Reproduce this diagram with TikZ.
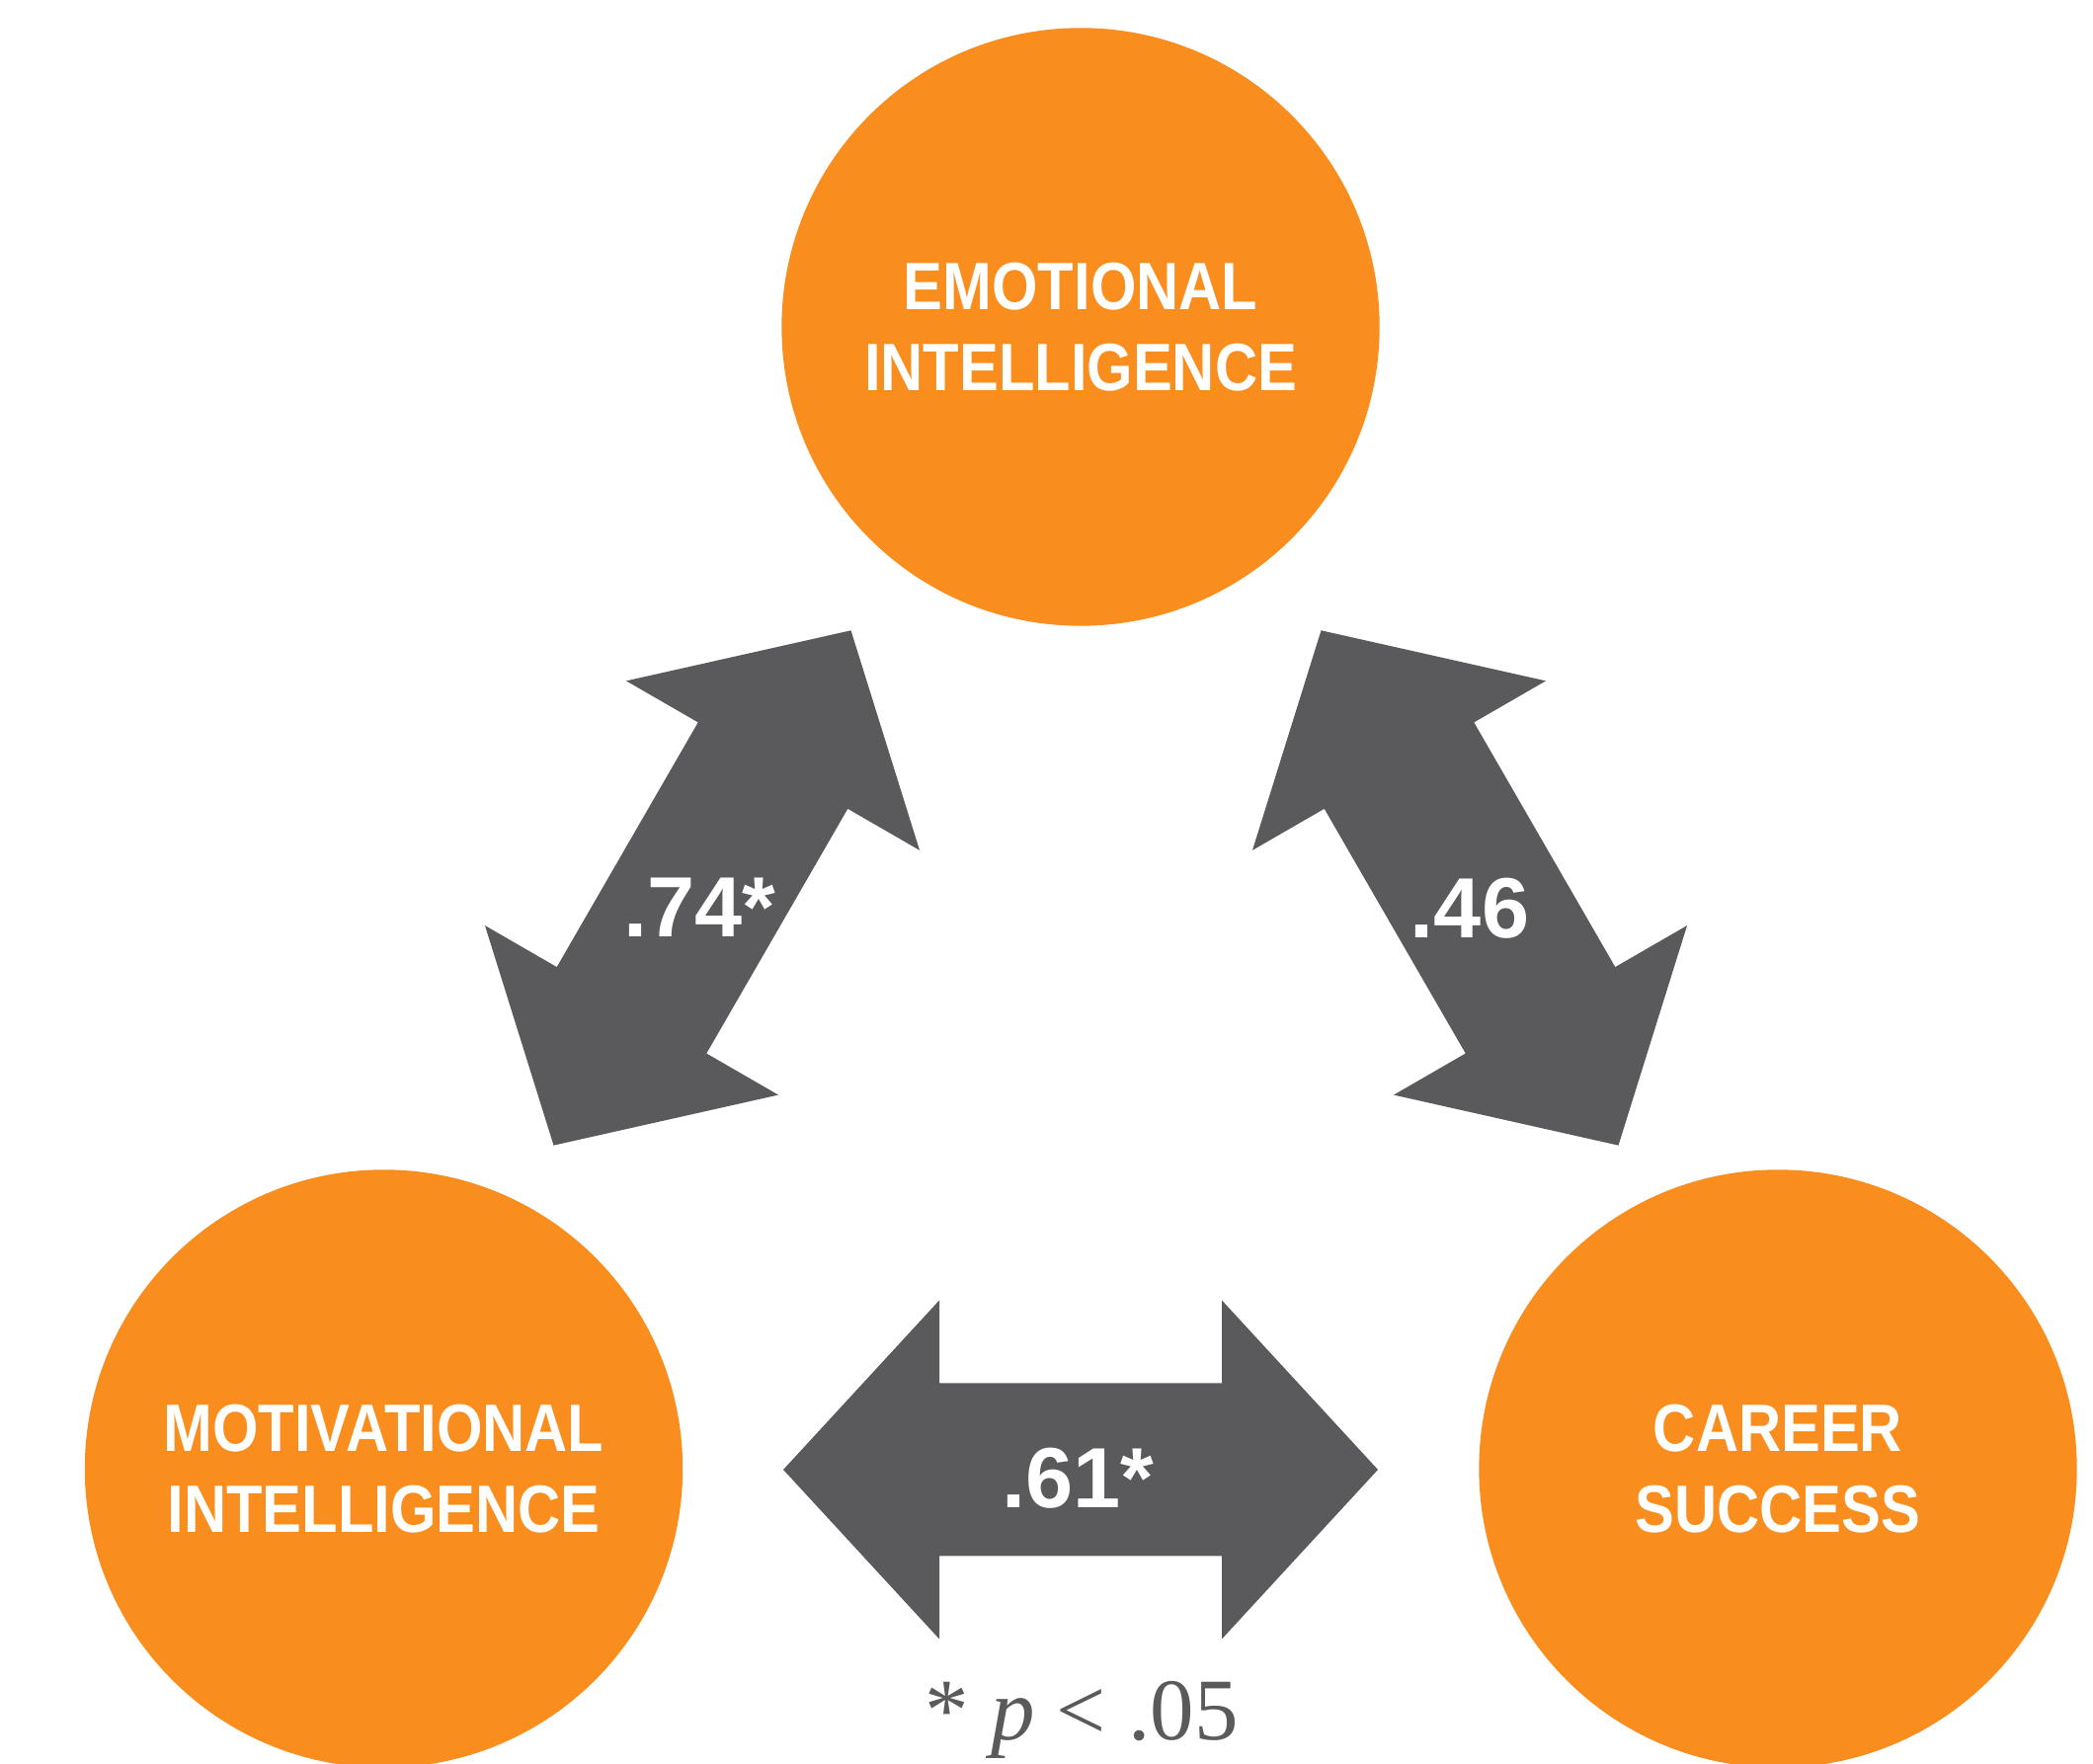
\documentclass[tikz,border=0pt]{standalone}
\usepackage{fontspec}
\usepackage{graphicx}
\setmainfont{Liberation Serif}
\newfontfamily\circlefont{Liberation Sans}
\newfontfamily\valuefont{Liberation Sans}

\definecolor{ochre}{HTML}{F98E1E}
\definecolor{slate}{HTML}{5A5A5C}

% condensed capitals used inside the circles
\newcommand\narrowline[1]{\scalebox{0.88}[1]{#1}}

\tikzset{
  factor/.style={circle, fill=ochre, minimum size=6.05cm, inner sep=0pt,
    text=white, align=center,
    font=\circlefont\bfseries\fontsize{19.3}{23.3}\selectfont},
  value/.style={inner sep=0pt, anchor=base, text=white,
    font=\valuefont\bfseries\fontsize{24.6}{29}\selectfont},
  note/.style={inner sep=0pt, anchor=base, text=slate,
    font=\fontsize{25.3}{30}\selectfont},
  % block double arrow, centred on its origin and pointing along x
  twoway/.pic={
    \fill[slate] (-301,0) -- (-143,171.5) -- (-143,87.5) -- (143,87.5)
      -- (143,171.5) -- (301,0) -- (143,-171.5) -- (143,-87.5)
      -- (-143,-87.5) -- (-143,-171.5) -- cycle;
  }
}

\begin{document}
\begin{tikzpicture}[x=0.01cm, y=0.01cm]
  \useasboundingbox (0,0) rectangle (2119,1786);
  \clip (0,0) rectangle (2119,1786);

  % constructs
  \node[factor] (emo) at (1094,1455)
    {\narrowline{EMOTIONAL}\\\narrowline{INTELLIGENCE}};
  \node[factor] (mot) at (388.5,299)
    {\narrowline{MOTIVATIONAL}\\\narrowline{INTELLIGENCE}};
  \node[factor] (car) at (1800,299)
    {\narrowline{CAREER}\\\narrowline{SUCCESS}};

  % correlations
  \pic[rotate=60]  at (711,887)  {twoway};
  \pic[rotate=120] at (1488,887) {twoway};
  \pic             at (1094,298) {twoway};

  \node[value] (emomot) at (708.5,837) {.74*};
  \node[value] (emocar) at (1488,836)  {.46};
  \node[value] (motcar) at (1091.5,259) {.61*};

  \node[note] (sig) at (1095,24) {* \textit{p} < .05};
\end{tikzpicture}
\end{document}
